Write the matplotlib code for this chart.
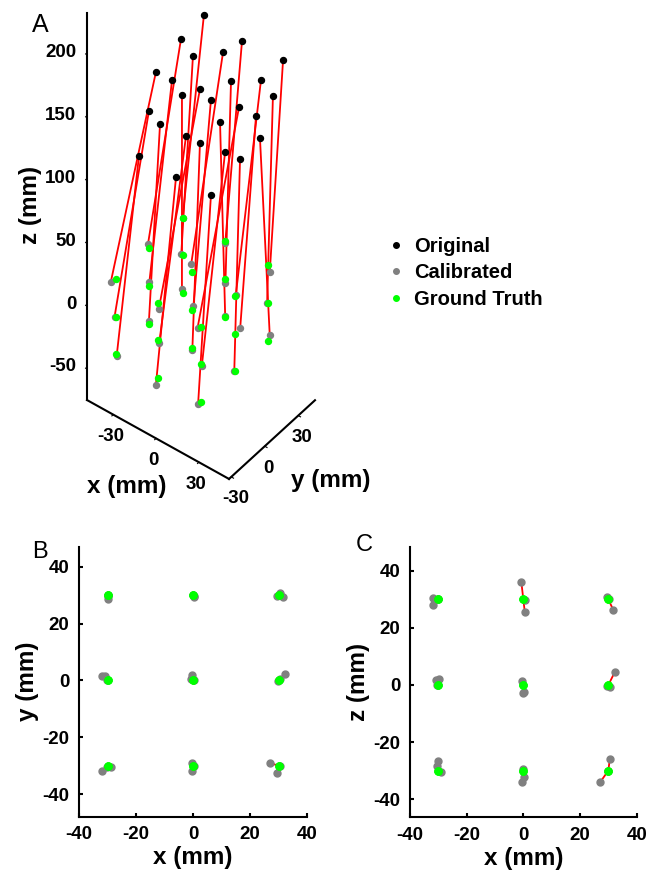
import matplotlib
matplotlib.use("Agg")
import matplotlib.pyplot as plt
from matplotlib.lines import Line2D

plt.rcParams["font.family"] = ["Liberation Sans", "DejaVu Sans"]
plt.rcParams["font.weight"] = "bold"
plt.rcParams["axes.labelweight"] = "bold"
plt.rcParams["axes.unicode_minus"] = False

# ground truth grid points (mm), ordered x -> y -> z
gt_x = [-30, -30, -30, -30, -30, -30, -30, -30, -30,
        0, 0, 0, 0, 0, 0, 0, 0, 0,
        30, 30, 30, 30, 30, 30, 30, 30, 30]
gt_y = [-30, -30, -30, 0, 0, 0, 30, 30, 30,
        -30, -30, -30, 0, 0, 0, 30, 30, 30,
        -30, -30, -30, 0, 0, 0, 30, 30, 30]
gt_z = [-30, 0, 30, -30, 0, 30, -30, 0, 30,
        -30, 0, 30, -30, 0, 30, -30, 0, 30,
        -30, 0, 30, -30, 0, 30, -30, 0, 30]

# calibrated positions
cal_x = [-28.9, -30.3, -31.8, -30.3, -30.9, -32.0, -30.0, -29.7, -30.0,
         -0.35, -0.2, 0.5, 0.2, -0.4, -0.7, -0.1, 0.4, 0.5,
         27.1, 30.5, 29.4, 29.9, 32.2, 30.4, 30.5, 29.6, 31.7]
cal_y = [-30.4, -30.5, -31.9, 0.3, 1.5, 1.6, 29.5, 28.5, 30.1,
         -31.7, -28.9, -30.2, 0.2, 2.0, 0.4, 30.0, 29.6, 29.3,
         -29.0, -30.0, -32.4, -0.2, 2.2, 0.5, 30.8, 29.6, 29.3]
cal_z = [-30.6, 0.0, 28.1, -28.5, 1.7, 30.6, -26.6, 2.1, 30.0,
         -34.0, -2.9, 25.6, -32.2, 1.5, 36.0, -29.4, -2.5, 29.8,
         -34.1, -0.8, 30.7, -30.0, 4.4, 30.3, -26.0, -0.2, 26.4]

# original (uncalibrated) positions
orig_x = [-12.7, -10.4, -10.2, -16.4, -12.7, -11.1, -19.5, -16.5, -13.5,
          12.1, 14.4, 19.5, 10.4, 13.4, 17.2, 6.0, 9.0, 12.0,
          35.4, 40.6, 45.7, 37.3, 43.8, 42.6, 32.8, 37.2, 39.6]
orig_y = [-31.1, -25.1, -19.1, -7.5, -1.5, 4.5, 16.1, 22.1, 28.1,
          -29.6, -23.6, -17.6, -6.0, 0.0, 6.0, 17.6, 23.6, 29.6,
          -28.1, -22.1, -16.1, -4.5, 1.5, 7.5, 19.1, 25.1, 31.1]
orig_z = [139.7, 172.1, 198.3, 143.6, 176.0, 204.8, 145.5, 173.5, 203.2,
          137.4, 166.6, 202.3, 144.2, 175.4, 211.0, 138.9, 168.5, 197.3,
          136.6, 169.1, 203.3, 147.2, 180.6, 203.6, 141.8, 173.2, 198.4]

RED = "#ff0000"
GRAY = "#808080"
GREEN = "#00ff00"

fig = plt.figure(figsize=(6.59, 8.72), dpi=100)

# ---- A: 3D view ----
ax3 = fig.add_axes([-0.2084, 0.3779, 1.0, 0.75], projection="3d",
                   proj_type="ortho", computed_zorder=False)
ax3.view_init(elev=45.5, azim=-52.08)
ax3.set_xlim(-48.4, 51.1, view_margin=0)
ax3.set_ylim(-32, 45, view_margin=0)
ax3.set_zlim(-76.3, 231.6, view_margin=0)
ax3.set_box_aspect((180.0, 139.9, 552.1), zoom=0.8867)

for i in range(len(gt_x)):
    ax3.plot([orig_x[i], cal_x[i]], [orig_y[i], cal_y[i]], [orig_z[i], cal_z[i]],
             color=RED, lw=1.3)
ax3.plot(cal_x, cal_y, cal_z, ls="none", marker="o", ms=4.3, color=GRAY)
ax3.plot(gt_x, gt_y, gt_z, ls="none", marker="o", ms=4.3, color=GREEN)
ax3.plot(orig_x, orig_y, orig_z, ls="none", marker="o", ms=4.3, color="black")

ax3.set_xticks([-30, 0, 30])
ax3.set_yticks([-30, 0, 30])
ax3.set_zticks([-50, 0, 50, 100, 150, 200])
ax3.zaxis.set_ticks_position("lower")
ax3.grid(False)
ax3.tick_params(labelsize=13.5)
ax3.xaxis.set_tick_params(pad=-1)
ax3.yaxis.set_tick_params(pad=-1)
for lab in ax3.get_zticklabels():
    lab.set_horizontalalignment("right")
    lab.set_verticalalignment("center")
for axis in (ax3.xaxis, ax3.yaxis, ax3.zaxis):
    axis.set_pane_color((1, 1, 1, 0))
    axis.pane.set_edgecolor((1, 1, 1, 0))
    axis.line.set_linewidth(1.5)
    axis.line.set_color("black")
    axis._axinfo["tick"]["inward_factor"] = 0.2
    axis._axinfo["tick"]["outward_factor"] = 0.0

handles = [Line2D([], [], ls="none", marker="o", ms=4, color=c) for c in ("black", GRAY, GREEN)]
fig.legend(handles, ["Original", "Calibrated", "Ground Truth"], loc="center left",
           bbox_to_anchor=(378 / 659, 1 - 273 / 872), frameon=False, fontsize=14.5,
           handlelength=0.8, handletextpad=0.5, labelspacing=0.35, borderpad=0)

fig.text(30 / 659, 1 - 205 / 872, "z (mm)", rotation=90, ha="center", va="center", fontsize=17.5)
fig.text(127 / 659, 1 - 486 / 872, "x (mm)", ha="center", va="center", fontsize=17.5)
fig.text(331 / 659, 1 - 480 / 872, "y (mm)", ha="center", va="center", fontsize=17.5)

# ---- B and C: projections ----
axB = fig.add_axes([79 / 659, 1 - 816.7 / 872, 228 / 659, 270 / 872])
axC = fig.add_axes([410 / 659, 1 - 817.3 / 872, 226.7 / 659, 270.6 / 872])

for ax, second_gt, second_cal, ylab, ylim in (
        (axB, gt_y, cal_y, "y (mm)", (-47.9, 47.0)),
        (axC, gt_z, cal_z, "z (mm)", (-46.4, 48.5))):
    for i in range(len(gt_x)):
        ax.plot([cal_x[i], gt_x[i]], [second_cal[i], second_gt[i]], color=RED, lw=1.3)
    ax.plot(cal_x, second_cal, ls="none", marker="o", ms=5, color=GRAY)
    ax.plot(gt_x, second_gt, ls="none", marker="o", ms=5, color=GREEN)
    ax.set_xlim(-40, 40)
    ax.set_ylim(*ylim)
    ax.set_xticks([-40, -20, 0, 20, 40])
    ax.set_yticks([-40, -20, 0, 20, 40])
    for side in ("top", "right"):
        ax.spines[side].set_visible(False)
    for side in ("left", "bottom"):
        ax.spines[side].set_linewidth(1.5)
    ax.tick_params(direction="in", length=3, width=1.5, labelsize=13.5, pad=7)
    ax.set_xlabel("x (mm)", fontsize=17.5, labelpad=2)
    ax.set_ylabel(ylab, fontsize=17.5, labelpad=2)

fig.text(40 / 659, 1 - 25 / 872, "A", ha="center", va="center", fontsize=18, fontweight="normal")
fig.text(40 / 659, 1 - 552 / 872, "B", ha="center", va="center", fontsize=17, fontweight="normal")
fig.text(364 / 659, 1 - 545 / 872, "C", ha="center", va="center", fontsize=17, fontweight="normal")

fig.savefig("out.png", dpi=100)
